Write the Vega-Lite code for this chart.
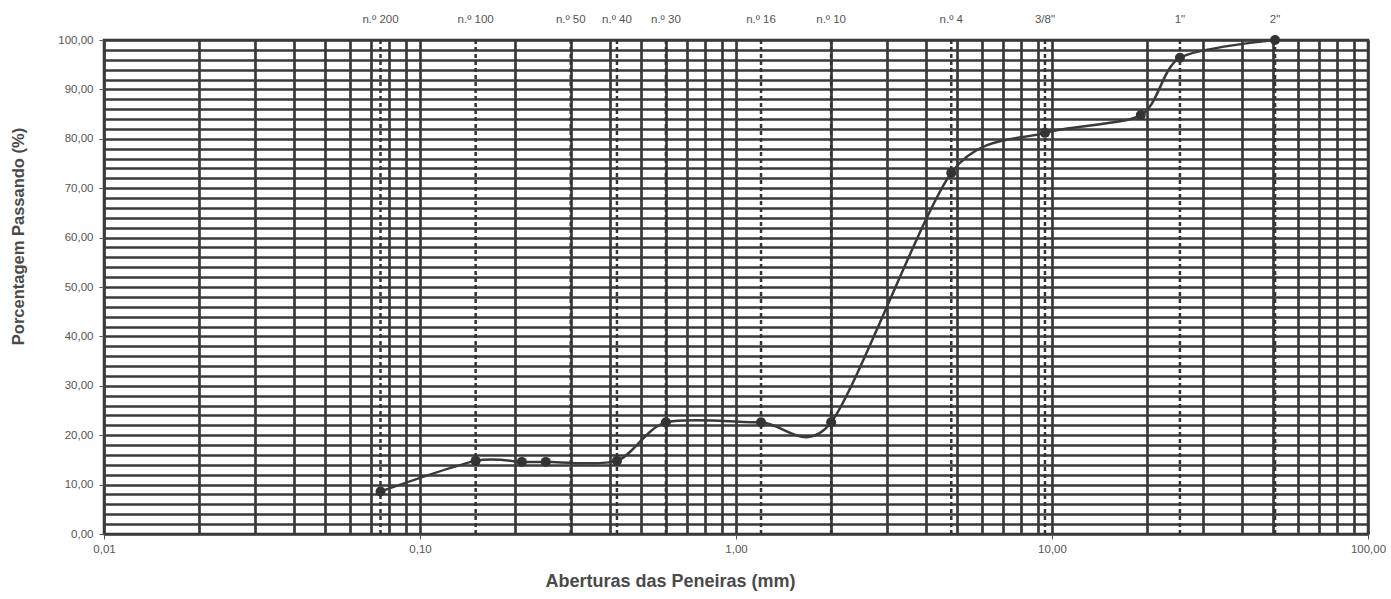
{
  "$schema": "https://vega.github.io/schema/vega-lite/v6.json",
  "width": 1264,
  "height": 494,
  "autosize": {"type": "none"},
  "padding": {"left": 104, "top": 40, "right": 23, "bottom": 65},
  "background": "white",
  "config": {
    "font": "Liberation Sans",
    "view": {"stroke": "#3a3a3a", "strokeWidth": 2.5}
  },
  "datasets": {
    "curve": [
      {"abertura": 0.075, "passando": 8.6},
      {"abertura": 0.15, "passando": 14.8},
      {"abertura": 0.21, "passando": 14.6},
      {"abertura": 0.25, "passando": 14.6},
      {"abertura": 0.42, "passando": 14.8},
      {"abertura": 0.6, "passando": 22.6},
      {"abertura": 1.2, "passando": 22.6},
      {"abertura": 2.0, "passando": 22.6},
      {"abertura": 4.8, "passando": 73.1},
      {"abertura": 9.5, "passando": 81.2},
      {"abertura": 19.1, "passando": 84.8},
      {"abertura": 25.4, "passando": 96.4},
      {"abertura": 50.8, "passando": 100.0}
    ],
    "sieves": [
      {"abertura": 0.075, "peneira": "n.º 200"},
      {"abertura": 0.15, "peneira": "n.º 100"},
      {"abertura": 0.3, "peneira": "n.º 50"},
      {"abertura": 0.42, "peneira": "n.º 40"},
      {"abertura": 0.6, "peneira": "n.º 30"},
      {"abertura": 1.2, "peneira": "n.º 16"},
      {"abertura": 2.0, "peneira": "n.º 10"},
      {"abertura": 4.8, "peneira": "n.º 4"},
      {"abertura": 9.5, "peneira": "3/8\""},
      {"abertura": 25.4, "peneira": "1\""},
      {"abertura": 50.8, "peneira": "2\""}
    ]
  },
  "layer": [
    {
      "data": {"name": "curve"},
      "mark": {"type": "line", "interpolate": "cardinal", "tension": 0.2, "color": "#3a3a3a", "strokeWidth": 2.5},
      "encoding": {
        "x": {
          "field": "abertura",
          "type": "quantitative",
          "scale": {"type": "log", "domain": [0.01, 100], "nice": false},
          "axis": {
            "title": "Aberturas das Peneiras (mm)",
            "titleFont": "Liberation Sans",
            "titleFontSize": 18,
            "titleFontWeight": "bold",
            "titleColor": "#4a4a4a",
            "titleX": 566,
            "titleY": 47,
            "titleBaseline": "middle",
            "titleAlign": "center",
            "tickCount": 200,
            "values": [0.01,0.02,0.03,0.04,0.05,0.06,0.07,0.08,0.09,0.1,0.2,0.3,0.4,0.5,0.6,0.7,0.8,0.9,1,2,3,4,5,6,7,8,9,10,20,30,40,50,60,70,80,90,100],
            "labelExpr": "abs(log(datum.value)/LN10 - round(log(datum.value)/LN10)) < 0.001 ? replace(format(datum.value, '.2f'), '.', ',') : ''",
            "labelFontSize": 11.5,
            "labelColor": "#555",
            "labelPadding": 4,
            "labelOverlap": false,
            "labelFlush": false,
            "tickSize": 5,
            "tickColor": "#555",
            "tickOpacity": {"condition": {"test": "abs(log(datum.value)/LN10 - round(log(datum.value)/LN10)) < 0.001", "value": 1}, "value": 0},
            "domain": false,
            "grid": true,
            "gridColor": "#3a3a3a",
            "gridWidth": 2.7,
            "gridOpacity": 1
          }
        },
        "y": {
          "field": "passando",
          "type": "quantitative",
          "scale": {"domain": [0, 100], "nice": false, "zero": true},
          "axis": {
            "title": "Porcentagem Passando (%)",
            "titleFont": "Liberation Sans",
            "titleFontSize": 16.5,
            "titleFontWeight": "bold",
            "titleColor": "#4a4a4a",
            "titleX": -86,
            "titleY": 196,
            "titleBaseline": "middle",
            "titleAlign": "center",
            "titleAngle": 270,
            "tickCount": 200,
            "values": [0,2,4,6,8,10,12,14,16,18,20,22,24,26,28,30,32,34,36,38,40,42,44,46,48,50,52,54,56,58,60,62,64,66,68,70,72,74,76,78,80,82,84,86,88,90,92,94,96,98,100],
            "labelExpr": "datum.value % 10 == 0 ? replace(format(datum.value, '.2f'), '.', ',') : ''",
            "labelFontSize": 11.5,
            "labelColor": "#555",
            "labelPadding": 6,
            "labelOverlap": false,
            "labelFlush": false,
            "tickSize": 5,
            "tickColor": "#555",
            "tickOpacity": {"condition": {"test": "datum.value % 10 == 0", "value": 1}, "value": 0},
            "domain": false,
            "grid": true,
            "gridColor": "#3a3a3a",
            "gridWidth": 2.7,
            "gridOpacity": 1
          }
        }
      }
    },
    {
      "data": {"name": "sieves"},
      "mark": {"type": "rule", "strokeDash": [4, 3], "strokeWidth": 2.5, "color": "#333"},
      "encoding": {
        "x": {"field": "abertura", "type": "quantitative"}
      }
    },
    {
      "data": {"name": "sieves"},
      "mark": {"type": "text", "fontSize": 11.5, "color": "#555", "baseline": "middle", "align": "center", "font": "Liberation Sans"},
      "encoding": {
        "x": {"field": "abertura", "type": "quantitative"},
        "y": {"datum": 104, "type": "quantitative"},
        "text": {"field": "peneira"}
      }
    },
    {
      "data": {"name": "curve"},
      "mark": {"type": "point", "filled": true, "size": 100, "color": "#333", "opacity": 1},
      "encoding": {
        "x": {"field": "abertura", "type": "quantitative"},
        "y": {"field": "passando", "type": "quantitative"}
      }
    }
  ]
}
